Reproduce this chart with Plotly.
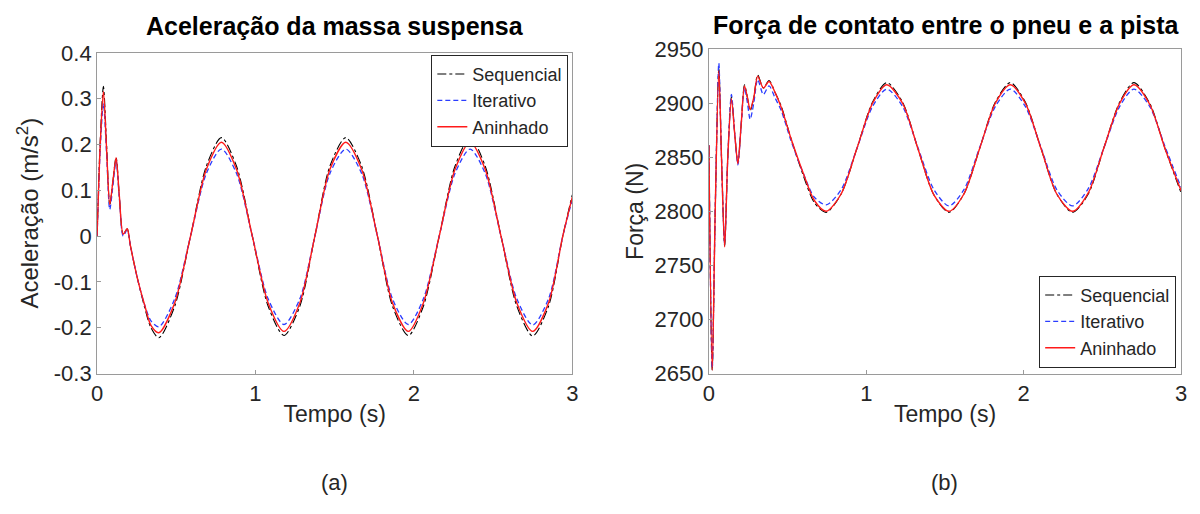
import plotly.graph_objects as go

# ---------------- data: (a) acceleration of sprung mass ----------------
t_acc = [0.0, 0.02, 0.04, 0.06, 0.08, 0.10, 0.12, 0.14, 0.165, 0.19, 0.21, 0.24, 0.26, 0.30, 0.34, 0.39,
         0.49, 0.59, 0.69, 0.785, 0.88, 0.98, 1.08, 1.18, 1.28, 1.375, 1.47, 1.57, 1.67, 1.77,
         1.865, 1.965, 2.06, 2.16, 2.26, 2.355, 2.45, 2.55, 2.65, 2.75, 2.85, 2.94, 3.0]
acc_seq = [0.0, 0.21, 0.327, 0.20, 0.068, 0.12, 0.172, 0.09, 0.004, 0.016, -0.02, -0.07, -0.10, -0.155, -0.20, -0.222,
           -0.153, 0.0, 0.153, 0.215, 0.153, 0.0, -0.153, -0.217, -0.153, 0.0, 0.153, 0.215, 0.153, 0.0,
           -0.153, -0.217, -0.153, 0.0, 0.153, 0.215, 0.153, 0.0, -0.153, -0.218, -0.153, 0.0, 0.09]
acc_ite = [0.0, 0.19, 0.290, 0.18, 0.058, 0.11, 0.165, 0.085, 0.0, 0.014, -0.02, -0.07, -0.10, -0.15, -0.185, -0.198,
           -0.137, 0.0, 0.137, 0.190, 0.137, 0.0, -0.137, -0.193, -0.137, 0.0, 0.137, 0.190, 0.137, 0.0,
           -0.137, -0.193, -0.137, 0.0, 0.137, 0.190, 0.137, 0.0, -0.137, -0.194, -0.137, 0.0, 0.08]
acc_ani = [0.0, 0.20, 0.316, 0.19, 0.069, 0.12, 0.171, 0.09, 0.004, 0.016, -0.02, -0.07, -0.10, -0.15, -0.195, -0.211,
           -0.146, 0.0, 0.146, 0.205, 0.146, 0.0, -0.146, -0.208, -0.146, 0.0, 0.146, 0.205, 0.146, 0.0,
           -0.146, -0.208, -0.146, 0.0, 0.146, 0.205, 0.146, 0.0, -0.146, -0.208, -0.146, 0.0, 0.085]

# ---------------- data: (b) tyre-road contact force ----------------
t_for = [0.0, 0.021, 0.04, 0.063, 0.08, 0.10, 0.12, 0.143, 0.165, 0.184, 0.205, 0.226, 0.245, 0.262, 0.285,
         0.31, 0.346, 0.382, 0.42, 0.46, 0.52, 0.60, 0.67, 0.745, 0.84, 0.94, 1.04, 1.13, 1.23, 1.33,
         1.43, 1.525, 1.62, 1.72, 1.82, 1.915, 2.01, 2.11, 2.21, 2.31, 2.41, 2.51, 2.61, 2.70, 2.80, 2.90, 3.0]
for_seq = [2861, 2653, 2800, 2932, 2850, 2768, 2850, 2906, 2870, 2845, 2880, 2917, 2905, 2893, 2905,
           2926, 2914, 2921, 2910, 2897, 2868, 2833, 2808, 2799, 2816, 2858, 2901, 2919, 2901, 2857,
           2815, 2799, 2816, 2858, 2901, 2919, 2901, 2858, 2816, 2799, 2816, 2859, 2901, 2919, 2900, 2857, 2817]
for_ite = [2861, 2655, 2800, 2937, 2850, 2770, 2850, 2908, 2870, 2843, 2880, 2914, 2900, 2885, 2900,
           2922, 2908, 2916, 2905, 2893, 2866, 2835, 2813, 2806, 2820, 2858, 2897, 2913, 2897, 2858,
           2820, 2805, 2820, 2859, 2897, 2913, 2897, 2859, 2820, 2805, 2821, 2859, 2897, 2913, 2897, 2859, 2822]
for_ani = [2861, 2653, 2800, 2930, 2850, 2767, 2850, 2904, 2870, 2844, 2880, 2916, 2905, 2894, 2905,
           2925, 2914, 2920, 2910, 2896, 2868, 2835, 2810, 2800, 2816, 2858, 2900, 2917, 2900, 2857,
           2815, 2800, 2816, 2858, 2900, 2917, 2900, 2858, 2816, 2800, 2817, 2859, 2900, 2917, 2899, 2857, 2819]

series_names = ["Sequencial", "Iterativo", "Aninhado"]
acc_ticks = [-0.3, -0.2, -0.1, 0, 0.1, 0.2, 0.3, 0.4]
acc_ticktext = ["-0.3", "-0.2", "-0.1", "0", "0.1", "0.2", "0.3", "0.4"]
for_ticks = [2650, 2700, 2750, 2800, 2850, 2900, 2950]
time_ticks = [0, 1, 2, 3]

FONT = "Liberation Sans, Arial, sans-serif"
styles = [
    dict(color="black", width=1.1, dash="dashdot"),
    dict(color="#2b3dff", width=1.3, dash="5px,3px"),
    dict(color="#ff1a1a", width=1.4, dash="solid"),
]

fig = go.Figure()
for name, y, st in zip(series_names, [acc_seq, acc_ite, acc_ani], styles):
    fig.add_trace(go.Scatter(x=t_acc, y=y, mode="lines", name=name, line=dict(shape="spline", smoothing=0.8, **st),
                             xaxis="x", yaxis="y", legend="legend"))
for name, y, st in zip(series_names, [for_seq, for_ite, for_ani], styles):
    fig.add_trace(go.Scatter(x=t_for, y=y, mode="lines", name=name, line=dict(shape="spline", smoothing=0.8, **st),
                             xaxis="x2", yaxis="y2", legend="legend2"))

W, H = 1200, 514
def px(x):
    return x / W
def py(y):
    return 1 - y / H

axcommon = dict(showgrid=False, zeroline=False, showline=True, linecolor="#9a9a9a", linewidth=1, mirror=True,
                ticks="inside", ticklen=4, tickcolor="#9a9a9a", tickfont=dict(family=FONT, size=22, color="#262626"))

legcommon = dict(bgcolor="white", bordercolor="#262626", borderwidth=1,
                 font=dict(family=FONT, size=18, color="#262626"), tracegroupgap=0, itemwidth=30)

fig.update_layout(
    width=W, height=H, margin=dict(l=0, r=0, t=0, b=0),
    paper_bgcolor="white", plot_bgcolor="white",
    font=dict(family=FONT, color="#262626"),
    xaxis=dict(domain=[px(92), px(572)], range=[0, 3], tickvals=time_ticks, anchor="y",
               title=dict(text="Tempo (s)", font=dict(size=23), standoff=0), **axcommon),
    yaxis=dict(domain=[py(380), py(43)], range=[-0.3, 0.4], tickvals=acc_ticks, ticktext=acc_ticktext, anchor="x",
               title=dict(text="Aceleração (m/s<sup>2</sup>)", font=dict(size=24), standoff=8), **axcommon),
    xaxis2=dict(domain=[px(710), px(1187)], range=[0, 3], tickvals=time_ticks, anchor="y2",
                title=dict(text="Tempo (s)", font=dict(size=23), standoff=0), **axcommon),
    yaxis2=dict(domain=[py(380), py(39)], range=[2650, 2950], tickvals=for_ticks, anchor="x2",
                title=dict(text="Força (N)", font=dict(size=23), standoff=4), **axcommon),
    legend=dict(x=px(568), xanchor="right", y=py(45), yanchor="top", **legcommon),
    legend2=dict(x=px(1182), xanchor="right", y=py(374), yanchor="bottom", **legcommon),
    annotations=[
        dict(text="<b>Aceleração da massa suspensa</b>", x=px(332), y=py(15), xref="paper", yref="paper",
             showarrow=False, font=dict(family=FONT, size=25, color="black"), xanchor="center", yanchor="middle"),
        dict(text="<b>Força de contato entre o pneu e a pista</b>", x=px(949), y=py(14), xref="paper", yref="paper",
             showarrow=False, font=dict(family=FONT, size=25, color="black"), xanchor="center", yanchor="middle"),
        dict(text="(a)", x=px(332), y=py(495), xref="paper", yref="paper", showarrow=False,
             font=dict(family=FONT, size=22, color="#262626"), xanchor="center", yanchor="middle"),
        dict(text="(b)", x=px(948), y=py(495), xref="paper", yref="paper", showarrow=False,
             font=dict(family=FONT, size=22, color="#262626"), xanchor="center", yanchor="middle"),
    ],
)

fig.write_html("out.html")
